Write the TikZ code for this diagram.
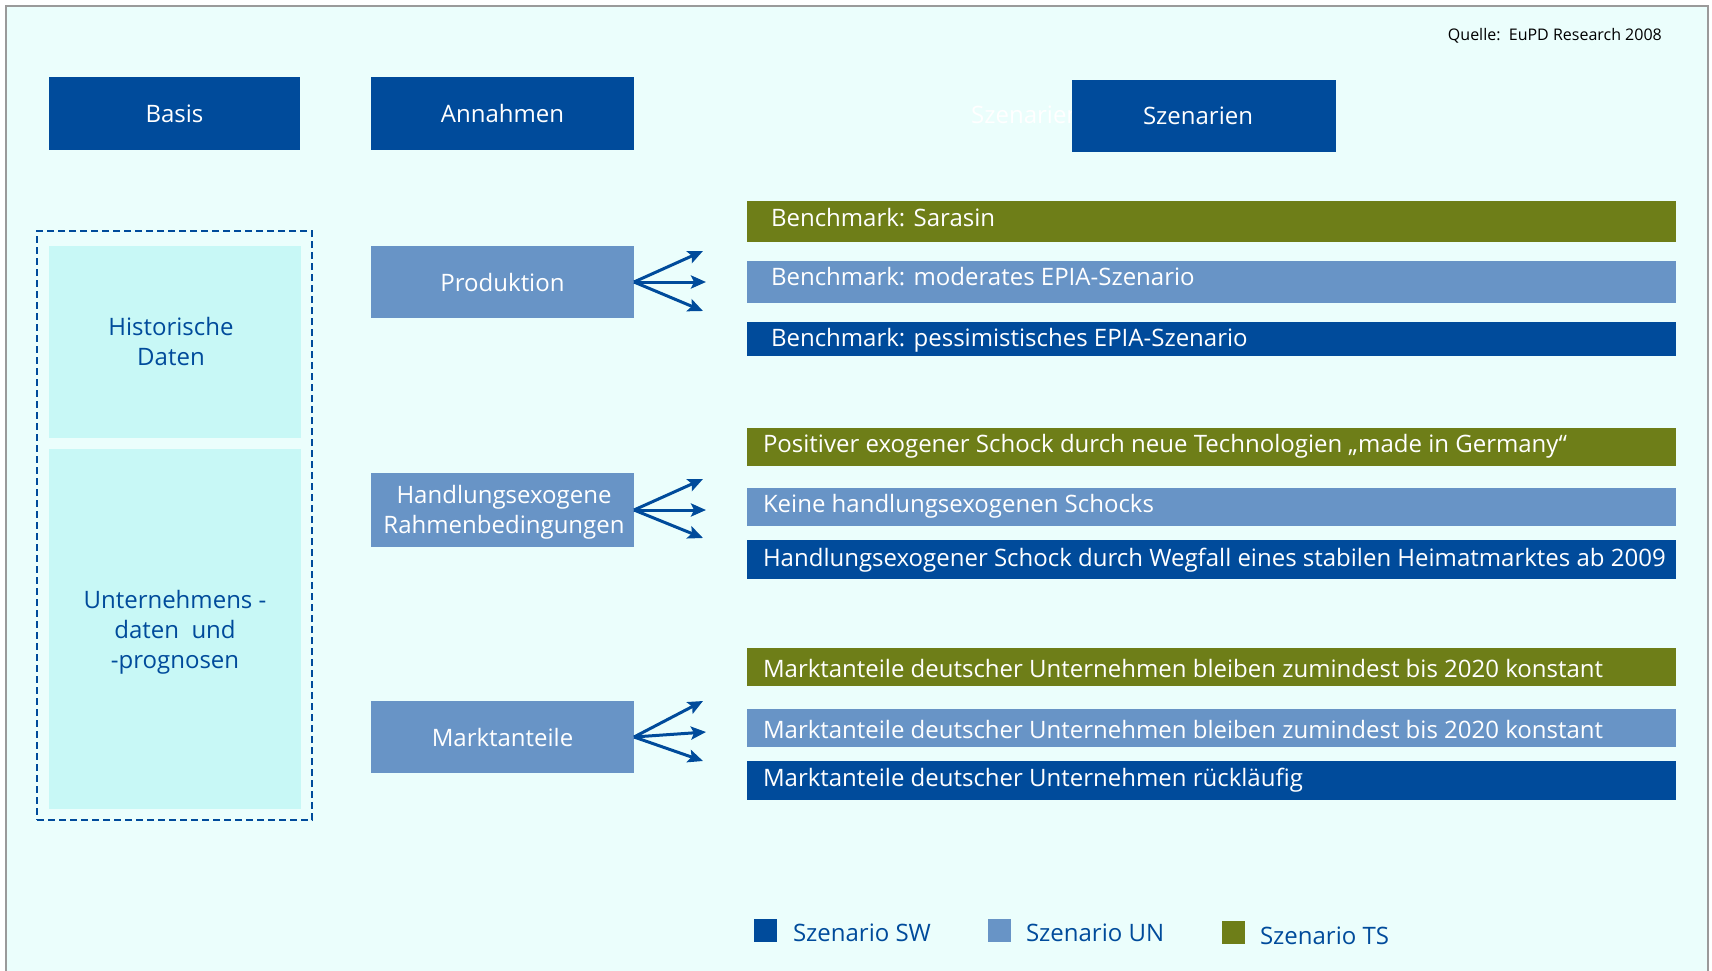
\documentclass[tikz,border=0pt]{standalone}
\usepackage{fontspec}
\setmainfont{Open Sans}
\usetikzlibrary{arrows.meta}
\definecolor{dblue}{HTML}{004B9B}
\definecolor{mblue}{HTML}{6894C6}
\definecolor{olivec}{HTML}{6E7E18}
\definecolor{cyanbox}{HTML}{C8F8F6}
\definecolor{bgc}{HTML}{EBFEFC}
\definecolor{framec}{HTML}{9A9A9A}
\begin{document}
\begin{tikzpicture}[x=1pt,y=-1pt,
  blk/.style={draw=none, inner sep=0pt, outer sep=0pt, anchor=north west},
  fnt/.style={font=\fontsize{24}{30}\selectfont},
  hdr/.style={blk, fill=dblue, text=white, fnt, minimum width=263pt, minimum height=73pt},
  ann/.style={blk, fill=mblue, text=white, fnt, minimum width=263pt, minimum height=72pt, align=center},
  bar/.style={blk, minimum width=929pt},
  bartxt/.style={inner sep=0pt, outer sep=0pt, anchor=base west, text=white, fnt},
  lgsq/.style={blk, minimum width=23pt, minimum height=23pt},
  lgtxt/.style={inner sep=0pt, outer sep=0pt, anchor=base west, text=dblue, fnt},
  fan/.style={draw=dblue, line width=3pt, -{Stealth[length=15pt,width=13pt,inset=3pt]}},
]
\useasboundingbox (0,0) rectangle (1712,971);
% frame
\draw[framec, line width=1.5pt, fill=bgc] (6,6) rectangle (1708,990);

% source
\node[inner sep=0pt, anchor=base east, font=\fontsize{16}{20}\selectfont] (quelle) at (1662,41) {Quelle:\ \ EuPD\ Research\ 2008};

% headers
\node[hdr, minimum width=251pt] (basis) at (49,77) {Basis};
\node[hdr] (annahmen) at (371,77) {Annahmen};
\node[inner sep=0pt, anchor=base west, text=white, fnt] (ghost) at (971,124) {Szenarien};
\node[hdr, minimum width=264pt, minimum height=72pt] (szen) at (1072,80) {Szenarien\hspace*{12pt}};

% basis group
\node[blk, fill=cyanbox, minimum width=252pt, minimum height=192pt] (hist) at (49,246) {};
\node[blk, fill=cyanbox, minimum width=252pt, minimum height=360pt] (unt) at (49,449) {};
\node[blk, draw=dblue, line width=2.5pt, dash pattern=on 7pt off 4pt, minimum width=275pt, minimum height=589pt] (group) at (37,231) {};
\node[inner sep=0pt, text=dblue, fnt, align=center, anchor=base] (histtxt) at (171,365) {Historische\\Daten};
\node[inner sep=0pt, text=dblue, fnt, align=center, anchor=base] (unttxt) at (175,668) {Unternehmens -\\daten\ \ und\\-prognosen};

% assumptions
\node[ann] (prod) at (371,246) {Produktion};
\node[ann, minimum height=74pt] (hand) at (371,473) {};
\node[inner sep=0pt, text=white, fnt, align=center, anchor=base] (handtxt) at (504,533) {Handlungsexogene\\Rahmenbedingungen};
\node[ann] (markt) at (371,701) {Marktanteile};

% fan arrows
\coordinate (p1) at (703,251); \coordinate (p2) at (706,282); \coordinate (p3) at (703,311);
\coordinate (h1) at (703,479); \coordinate (h2) at (706,510); \coordinate (h3) at (703,538);
\coordinate (m1) at (703,701); \coordinate (m2) at (706,732); \coordinate (m3) at (703,761);
\foreach \c in {p1,p2,p3} \draw[fan] (prod.east) -- (\c);
\foreach \c in {h1,h2,h3} \draw[fan] (hand.east) -- (\c);
\foreach \c in {m1,m2,m3} \draw[fan] (markt.east) -- (\c);

% scenario bars
\node[bar, fill=olivec, minimum height=41pt] (b1) at (747,201) {};
\node[bar, fill=mblue, minimum height=42pt] (b2) at (747,261) {};
\node[bar, fill=dblue, minimum height=34pt] (b3) at (747,322) {};
\node[bar, fill=olivec, minimum height=38pt] (b4) at (747,428) {};
\node[bar, fill=mblue, minimum height=38pt] (b5) at (747,488) {};
\node[bar, fill=dblue, minimum height=39pt] (b6) at (747,540) {};
\node[bar, fill=olivec, minimum height=38pt] (b7) at (747,648) {};
\node[bar, fill=mblue, minimum height=38pt] (b8) at (747,709) {};
\node[bar, fill=dblue, minimum height=39pt] (b9) at (747,761) {};

\node[bartxt] (t1) at (771,226) {Benchmark: Sarasin};
\node[bartxt] (t2) at (771,285) {Benchmark: moderates EPIA-Szenario};
\node[bartxt] (t3) at (771,346) {Benchmark: pessimistisches EPIA-Szenario};
\node[bartxt] (t4) at (763,452) {Positiver exogener Schock durch neue Technologien „made in Germany“};
\node[bartxt] (t5) at (763,512) {Keine handlungsexogenen Schocks};
\node[bartxt] (t6) at (763,566) {Handlungsexogener Schock durch Wegfall eines stabilen Heimatmarktes ab 2009};
\node[bartxt] (t7) at (763,677) {Marktanteile deutscher Unternehmen bleiben zumindest bis 2020 konstant};
\node[bartxt] (t8) at (763,738) {Marktanteile deutscher Unternehmen bleiben zumindest bis 2020 konstant};
\node[bartxt] (t9) at (763,786) {Marktanteile deutscher Unternehmen rückläufig};

% legend
\node[lgsq, fill=dblue] (lsw) at (754,919) {};
\node[lgtxt] (lswt) at (793,941) {Szenario SW};
\node[lgsq, fill=mblue] (lun) at (988,919) {};
\node[lgtxt] (lunt) at (1026,941) {Szenario UN};
\node[lgsq, fill=olivec] (lts) at (1222,921) {};
\node[lgtxt] (ltst) at (1260,944) {Szenario TS};
\end{tikzpicture}
\end{document}
